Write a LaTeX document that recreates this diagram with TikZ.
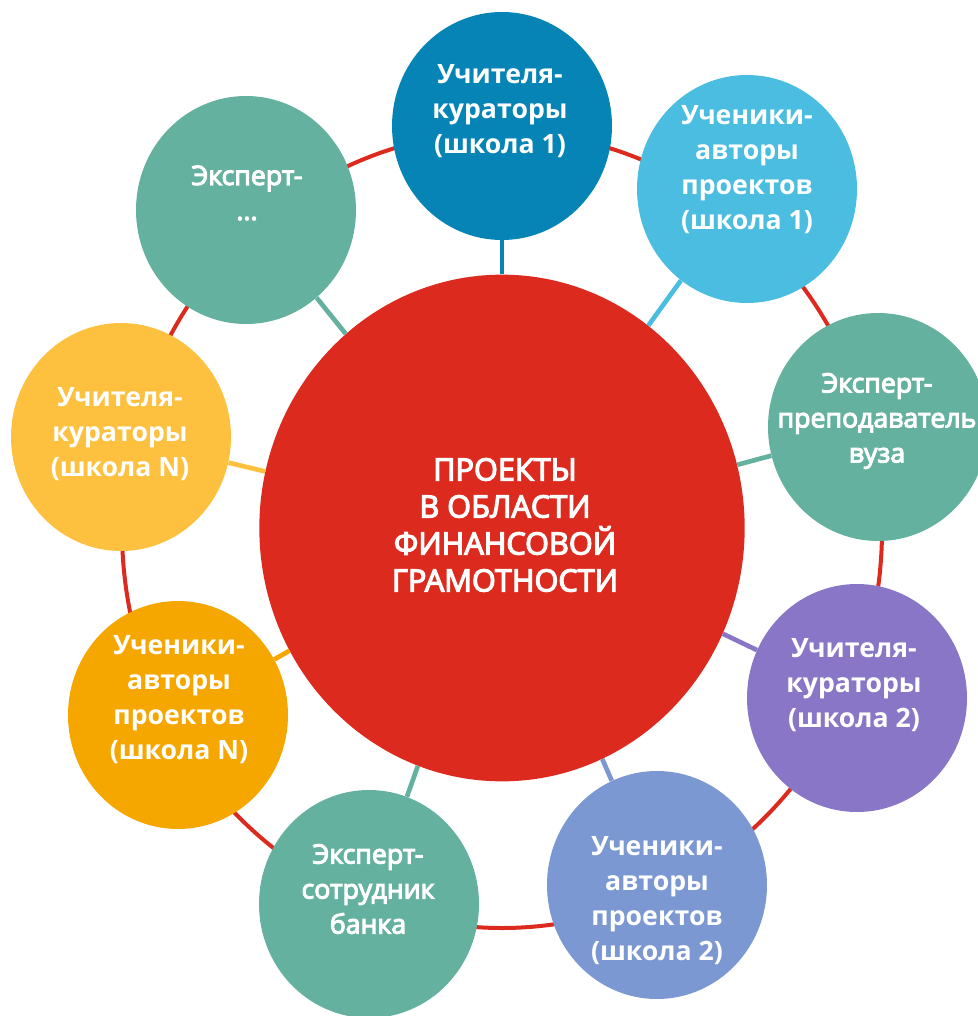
\documentclass[tikz,border=0pt]{standalone}
\usepackage{fontspec}
\setmainfont{Open Sans}
\newfontfamily\medfont[FakeBold=4]{Open Sans}
\usetikzlibrary{shapes.geometric}

\definecolor{ringred}{HTML}{DC2B1E}
\definecolor{darkblue}{HTML}{0584B5}
\definecolor{lightblue}{HTML}{4BBDE0}
\definecolor{teal}{HTML}{63B19E}
\definecolor{violet}{HTML}{8A76C6}
\definecolor{slate}{HTML}{7B98D2}
\definecolor{orange}{HTML}{F5A700}
\definecolor{yellow}{HTML}{FDC13F}

\begin{document}
\begin{tikzpicture}[x=0.75pt,y=-0.75pt,
   bub/.style={ellipse,minimum width=165pt,minimum height=171pt,inner sep=0pt},
   lbl/.style={text=white,align=center,font=\fontsize{20}{26.25}\selectfont\bfseries},
   lblx/.style={text=white,align=center,font=\fontsize{20}{26.25}\medfont},
   spoke/.style={line width=3.5pt}]

   \useasboundingbox (0,0) rectangle (977,1016);

   % outer ring
   \draw[ringred,line width=3pt] (502,530) ellipse (285pt and 298.5pt);

   \node[ellipse,fill=ringred,minimum width=364pt,minimum height=380pt,inner sep=0pt] (proj) at (502,528) {};
   \node[text=white,align=center,font=\fontsize{23}{27.75}\medfont] (projtxt) at (505,525)
      {ПРОЕКТЫ\\В ОБЛАСТИ\\ФИНАНСОВОЙ\\ГРАМОТНОСТИ};

   % circles round the ring
   \node[bub,fill=darkblue] (uch1) at (502,126) {};
   \node[bub,fill=lightblue] (stud1) at (747,189) {};
   \node[bub,fill=teal] (expvuz) at (878,427) {};
   \node[bub,fill=violet] (uch2) at (857,698) {};
   \node[bub,fill=slate] (stud2) at (657,885) {};
   \node[bub,fill=teal] (expbank) at (369,904) {};
   \node[bub,fill=orange] (studN) at (178,715) {};
   \node[bub,fill=yellow] (uchN) at (121,437) {};
   \node[bub,fill=teal] (expdots) at (246,210) {};

   % spokes
   \draw[spoke,darkblue] (proj) -- (uch1);
   \draw[spoke,lightblue] (proj) -- (stud1);
   \draw[spoke,teal] (proj) -- (expvuz);
   \draw[spoke,violet] (proj) -- (uch2);
   \draw[spoke,slate] (proj) -- (stud2);
   \draw[spoke,teal] (proj) -- (expbank);
   \draw[spoke,orange] (proj) -- (studN);
   \draw[spoke,yellow] (proj) -- (uchN);
   \draw[spoke,teal] (proj) -- (expdots);

   % texts
   \node[lbl] (uch1txt) at (500,111) {Учителя-\\кураторы\\(школа 1)};
   \node[lbl] (stud1txt) at (747,170) {Ученики-\\авторы\\проектов\\(школа 1)};
   \node[lblx] (expvuztxt) at (877,421) {Эксперт-\\преподаватель\\вуза};
   \node[lbl] (uch2txt) at (854,685) {Учителя-\\кураторы\\(школа 2)};
   \node[lbl] (stud2txt) at (657,901) {Ученики-\\авторы\\проектов\\(школа 2)};
   \node[lblx] (expbanktxt) at (368,889) {Эксперт-\\сотрудник\\банка};
   \node[lbl] (studNtxt) at (179,700) {Ученики-\\авторы\\проектов\\(школа N)};
   \node[lbl] (uchNtxt) at (120,434) {Учителя-\\кураторы\\(школа N)};
   \node[lblx] (expdotstxt) at (247,193) {Эксперт-\\...};
\end{tikzpicture}
\end{document}
